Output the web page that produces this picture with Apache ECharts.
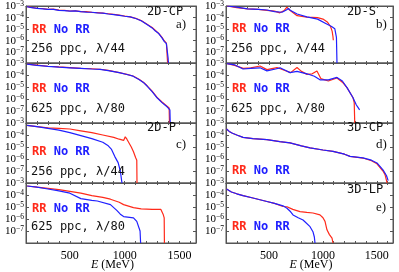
<!DOCTYPE html>
<html><head><meta charset="utf-8">
<script src="https://cdn.jsdelivr.net/npm/echarts@6/dist/echarts.min.js"></script>
<style>html,body{margin:0;padding:0;background:#fff}#c{width:399px;height:272px}</style>
</head><body><div id="c"></div>
<script>
// Spectra: pairs of [E (MeV), log10 of dN/dE]
const a_RR = [[110,-3.05],[150,-3.12],[200,-3.2],[250,-3.22],[300,-3.3],[350,-3.27],[400,-3.36],[450,-3.38],[500,-3.44],[550,-3.42],[600,-3.5],[650,-3.5],[700,-3.56],[750,-3.58],[800,-3.63],[850,-3.68],[900,-3.74],[950,-3.8],[1000,-3.88],[1050,-3.95],[1100,-4.08],[1150,-4.28],[1200,-4.58],[1250,-4.88],[1280,-5.15],[1310,-5.4],[1340,-5.75],[1360,-6.05],[1380,-6.25],[1388,-6.3],[1391,-8]];
const a_NoRR = [[110,-3.05],[150,-3.15],[200,-3.2],[250,-3.25],[300,-3.3],[350,-3.29],[400,-3.38],[450,-3.4],[500,-3.45],[550,-3.43],[600,-3.5],[650,-3.53],[700,-3.55],[750,-3.6],[800,-3.62],[850,-3.7],[900,-3.75],[950,-3.82],[1000,-3.9],[1050,-3.96],[1100,-4.1],[1150,-4.3],[1200,-4.6],[1250,-4.92],[1280,-5.2],[1310,-5.42],[1340,-5.8],[1360,-6.1],[1380,-6.3],[1392,-6.45],[1396,-7.6],[1398,-8]];

const a2_RR = [[110,-3.1],[200,-3.18],[300,-3.27],[400,-3.33],[500,-3.38],[600,-3.44],[700,-3.48],[775,-3.52],[850,-3.62],[950,-3.8],[1020,-3.95],[1076,-4.08],[1130,-4.35],[1170,-4.6],[1204,-4.9],[1250,-5.35],[1295,-5.86],[1340,-6.25],[1386,-6.6],[1405,-6.75],[1408,-8]];
const a2_NoRR = [[110,-3.1],[200,-3.2],[300,-3.28],[400,-3.35],[500,-3.4],[600,-3.45],[700,-3.5],[775,-3.53],[850,-3.63],[950,-3.8],[1020,-3.96],[1076,-4.1],[1130,-4.38],[1170,-4.62],[1204,-4.92],[1250,-5.38],[1295,-5.9],[1340,-6.3],[1386,-6.65],[1412,-6.9],[1415,-8]];

const b_RR = [[110,-3.0],[200,-3.15],[300,-3.25],[400,-3.3],[480,-3.38],[550,-3.45],[600,-3.6],[640,-3.4],[665,-3.1],[690,-3.35],[760,-3.85],[850,-3.98],[950,-4.02],[1000,-4.15],[1040,-4.4],[1070,-4.8],[1085,-5.2],[1093,-5.7],[1096,-6.0]];
const b_NoRR = [[110,-3.0],[200,-3.1],[300,-3.25],[400,-3.3],[480,-3.35],[550,-3.5],[620,-3.55],[660,-3.35],[680,-3.22],[700,-3.4],[760,-3.7],[850,-3.95],[950,-4.15],[1030,-4.55],[1080,-4.8],[1110,-5.0],[1125,-5.75],[1130,-8]];

const b2_RR = [[110,-3.05],[180,-3.2],[260,-3.45],[330,-3.4],[416,-3.25],[480,-3.55],[573,-3.38],[640,-3.6],[700,-3.8],[759,-3.38],[800,-3.7],[852,-3.95],[900,-3.9],[944,-3.66],[980,-4.3],[1050,-4.5],[1130,-4.25],[1180,-4.6],[1223,-5.05],[1279,-5.9],[1290,-6.3],[1295,-8]];
const b2_NoRR = [[110,-3.05],[180,-3.15],[258,-3.5],[330,-3.45],[416,-3.4],[480,-3.66],[560,-3.5],[601,-3.4],[650,-3.6],[694,-3.8],[759,-3.7],[852,-3.9],[920,-4.1],[972,-4.4],[1050,-4.4],[1130,-4.2],[1180,-4.5],[1223,-5.05],[1279,-5.9],[1310,-6.5],[1325,-6.7],[1340,-6.9]];

const c_RR = [[110,-3.2],[200,-3.3],[300,-3.4],[400,-3.45],[500,-3.5],[600,-3.65],[700,-3.8],[800,-4.0],[900,-4.2],[950,-4.35],[990,-4.45],[1005,-4.15],[1020,-4.35],[1060,-5.0],[1080,-5.4],[1100,-5.9],[1110,-6.1],[1112,-8]];
const c_NoRR = [[110,-3.2],[200,-3.3],[300,-3.45],[400,-3.6],[500,-3.8],[600,-4.05],[700,-4.3],[800,-4.6],[850,-4.9],[880,-5.2],[910,-5.8],[940,-6.3],[960,-7.0],[975,-8]];

const c2_RR = [[110,-3.25],[200,-3.35],[300,-3.45],[400,-3.55],[500,-3.7],[600,-3.85],[700,-4.05],[800,-4.2],[870,-4.35],[950,-4.6],[990,-4.8],[1080,-5.05],[1150,-5.15],[1250,-5.2],[1330,-5.2],[1350,-5.6],[1360,-5.9],[1362,-8]];
const c2_NoRR = [[110,-3.25],[200,-3.35],[300,-3.5],[400,-3.65],[500,-3.85],[600,-4.3],[700,-4.45],[750,-4.5],[870,-4.8],[930,-5.3],[960,-5.6],[990,-5.8],[1080,-5.9],[1110,-6.2],[1140,-7.0],[1145,-8]];

const d_RR = [[105,-3.5],[130,-3.7],[160,-3.85],[200,-4.0],[258,-4.2],[350,-4.3],[480,-4.38],[600,-4.55],[694,-4.66],[800,-4.9],[880,-5.07],[1000,-5.25],[1093,-5.36],[1200,-5.6],[1251,-5.78],[1371,-5.92],[1450,-6.15],[1501,-6.4],[1557,-7.0],[1576,-7.3],[1590,-7.8],[1595,-8]];
const d_NoRR = [[105,-3.5],[130,-3.7],[160,-3.85],[200,-4.0],[258,-4.2],[350,-4.3],[480,-4.38],[600,-4.55],[694,-4.66],[800,-4.9],[880,-5.07],[1000,-5.25],[1093,-5.36],[1200,-5.6],[1251,-5.78],[1371,-5.9],[1450,-6.1],[1501,-6.33],[1557,-6.9],[1590,-7.4],[1605,-7.8]];

const e_RR = [[105,-3.5],[150,-3.75],[200,-3.9],[258,-4.05],[350,-4.25],[480,-4.54],[550,-4.7],[629,-4.96],[666,-4.98],[720,-5.2],[787,-5.38],[850,-5.45],[907,-5.5],[972,-5.66],[1000,-5.9],[1019,-6.2],[1037,-6.9],[1060,-7.3],[1084,-7.6],[1093,-8]];
const e_NoRR = [[105,-3.5],[150,-3.75],[200,-3.9],[258,-4.05],[350,-4.25],[480,-4.54],[550,-4.7],[629,-4.9],[666,-5.1],[700,-5.4],[722,-5.66],[770,-5.9],[815,-6.08],[880,-6.64],[907,-7.06],[920,-7.5],[926,-8]];

const xTickLabels = [500, 1000, 1500];
const yTickExponents = [-3, -4, -5, -6, -7];
const xTitle = 'E';
const xUnit = ' (MeV)';

const panels = [
  {col:0,row:0,rr:a_RR,no:a_NoRR,title:'2D-CP',letter:'a)',note:'256 ppc, λ/44'},
  {col:0,row:1,rr:a2_RR,no:a2_NoRR,title:'',letter:'',note:'625 ppc, λ/80'},
  {col:0,row:2,rr:c_RR,no:c_NoRR,title:'2D-P',letter:'c)',note:'256 ppc, λ/44'},
  {col:0,row:3,rr:c2_RR,no:c2_NoRR,title:'',letter:'',note:'625 ppc, λ/80'},
  {col:1,row:0,rr:b_RR,no:b_NoRR,title:'2D-S',letter:'b)',note:'256 ppc, λ/44'},
  {col:1,row:1,rr:b2_RR,no:b2_NoRR,title:'',letter:'',note:'625 ppc, λ/80'},
  {col:1,row:2,rr:d_RR,no:d_NoRR,title:'3D-CP',letter:'d)',note:''},
  {col:1,row:3,rr:e_RR,no:e_NoRR,title:'3D-LP',letter:'e)',note:''}
];
// layout (pixels)
const colLeft = [26, 226], colWidth = [170, 167], top0 = 3, rowH = 60;
const textY = {
  0:{title:13,letter:25,rr:31,note:50}, 1:{rr:90,note:110},
  2:{title:129,letter:145,rr:153,note:173}, 3:{rr:210,note:228},
  4:{title:13,letter:25,rr:30,note:50}, 5:{rr:90,note:110},
  6:{title:129,letter:145,rr:172}, 7:{title:191,letter:208,rr:228}
};
const RED = '#ff2a1a', BLUE = '#2020ff', FRAME = '#555';
const serif = 'Liberation Serif', mono = 'DejaVu Sans Mono';

const grids = [], xAxes = [], yAxes = [], series = [], graphics = [];
panels.forEach((p, i) => {
  const left = colLeft[p.col], width = colWidth[p.col], top = top0 + p.row * rowH;
  grids.push({left, top, width, height: rowH, show: true, borderColor: FRAME, borderWidth: 1, backgroundColor: 'transparent'});
  const last = p.row === 3;
  const xBase = {type:'value', gridIndex:i, min:100, max:1650, interval:100,
    axisLine:{show:true, lineStyle:{color:FRAME}}, splitLine:{show:false},
    axisTick:{show:true, inside:true, length:2, lineStyle:{color:FRAME}}};
  xAxes.push(Object.assign({}, xBase, {position:'bottom',
    axisLabel:{show:last, margin:7, color:'#000', fontFamily:serif, fontSize:12,
      formatter: v => xTickLabels.includes(v) ? String(v) : ''}}));
  xAxes.push(Object.assign({}, xBase, {position:'top', axisLabel:{show:false}}));
  const yBase = {type:'log', logBase:10, gridIndex:i, min:1e-8, max:1e-3,
    axisLine:{show:true, lineStyle:{color:FRAME}}, splitLine:{show:false},
    axisTick:{show:true, inside:true, length:3, lineStyle:{color:FRAME}}};
  yAxes.push(Object.assign({}, yBase, {position:'left',
    axisLabel:{show:true, margin:2, color:'#000', fontFamily:serif, fontSize:11,
      formatter: v => { const e = Math.round(Math.log10(v)); return yTickExponents.includes(e) ? '{b|10}{s|−' + (-e) + '}' : ''; },
      rich:{b:{fontSize:11, fontFamily:serif, color:'#000', verticalAlign:'bottom', lineHeight:12},
            s:{fontSize:7.5, fontFamily:serif, color:'#000', verticalAlign:'top', lineHeight:12, padding:[0,0,6,0]}}}}));
  yAxes.push(Object.assign({}, yBase, {position:'right', axisLabel:{show:false}}));
  const toPts = arr => arr.map(([e, l]) => [e, Math.pow(10, l)]);
  series.push({type:'line', name:'RR', xAxisIndex:2*i, yAxisIndex:2*i, data:toPts(p.rr), showSymbol:false, symbol:'none', clip:true,
    lineStyle:{color:RED, width:1.2}, itemStyle:{color:RED}, animation:false, z:2});
  series.push({type:'line', name:'No RR', xAxisIndex:2*i, yAxisIndex:2*i, data:toPts(p.no), showSymbol:false, symbol:'none', clip:true,
    lineStyle:{color:BLUE, width:1.2}, itemStyle:{color:BLUE}, animation:false, z:3});
  const ty = textY[i];
  graphics.push({type:'text', left:left+6, top:ty.rr-7, z:10, style:{rich:{r:{fill:RED, font:'bold 12px "' + mono + '"'}, b:{fill:BLUE, font:'bold 12px "' + mono + '"'}}, text:'{r|RR }{b|No RR}'}});
  if (p.note) graphics.push({type:'text', left:left+5, top:ty.note-7, z:10, style:{text:p.note, fill:'#111', font:'12px "' + mono + '"'}});
  if (p.title) graphics.push({type:'text', left:left+121, top:ty.title-7, z:10, style:{text:p.title, fill:'#111', font:'12px "' + mono + '"'}});
  if (p.letter) graphics.push({type:'text', left:left+150, top:ty.letter-7, z:10, style:{text:p.letter, fill:'#111', font:'13px "' + serif + '"'}});
});
[0,1].forEach(c => {
  graphics.push({type:'text', left: colLeft[c] + colWidth[c]/2 - 20, top: 259, z:10,
    style:{rich:{i:{font:'italic 12px "' + serif + '"', fill:'#000'}, n:{font:'12px "' + serif + '"', fill:'#000'}}, text:'{i|' + xTitle + '}{n|' + xUnit + '}'}});
});

const chart = echarts.init(document.getElementById('c'), null, {renderer:'canvas'});
chart.setOption({animation:false, grid:grids, xAxis:xAxes, yAxis:yAxes, series, graphic:graphics});
</script></body></html>
